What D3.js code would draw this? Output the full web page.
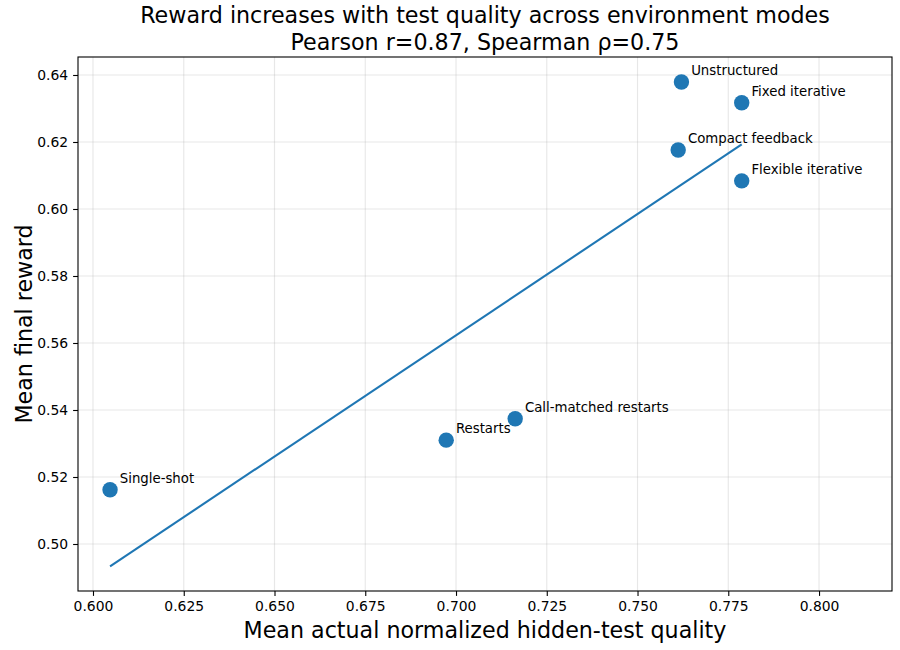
<!DOCTYPE html>
<html>
<head>
<meta charset="utf-8">
<script src="https://cdn.jsdelivr.net/npm/d3@7"></script>
<style>
  html, body { margin: 0; padding: 0; background: #fff; }
  svg { display: block; font-family: "DejaVu Sans", sans-serif; }
</style>
</head>
<body>
<svg id="chart" width="900" height="650"></svg>
<script>
// ---- Data ----
const modes = ["Single-shot", "Restarts", "Call-matched restarts", "Compact feedback", "Unstructured", "Fixed iterative", "Flexible iterative"];
const testQuality = [0.6047, 0.6973, 0.7163, 0.7612, 0.7621, 0.7787, 0.7787];
const meanReward = [0.5162, 0.5310, 0.5374, 0.6176, 0.6379, 0.6317, 0.6084];
const xTicks = [0.600, 0.625, 0.650, 0.675, 0.700, 0.725, 0.750, 0.775, 0.800];
const yTicks = [0.50, 0.52, 0.54, 0.56, 0.58, 0.60, 0.62, 0.64];
const titleLines = ["Reward increases with test quality across environment modes", "Pearson r=0.87, Spearman ρ=0.75"];
const xLabel = "Mean actual normalized hidden-test quality";
const yLabel = "Mean final reward";

// ---- Layout ----
const svg = d3.select("#chart");
const m = { left: 78, right: 892, top: 57, bottom: 591 };
const color = "#1f77b4";

const x = d3.scaleLinear().domain([0.59587, 0.8201]).range([m.left, m.right]);
const y = d3.scaleLinear().domain([0.48597, 0.64537]).range([m.bottom, m.top]);

// grid
const grid = svg.append("g");
grid.selectAll("line.gx").data(xTicks).join("line")
  .attr("x1", d => x(d)).attr("x2", d => x(d))
  .attr("y1", m.top).attr("y2", m.bottom)
  .attr("stroke", "#b0b0b0").attr("stroke-opacity", 0.3).attr("stroke-width", 1.1);
grid.selectAll("line.gy").data(yTicks).join("line")
  .attr("y1", d => y(d)).attr("y2", d => y(d))
  .attr("x1", m.left).attr("x2", m.right)
  .attr("stroke", "#b0b0b0").attr("stroke-opacity", 0.3).attr("stroke-width", 1.1);

// axes
const xAxis = svg.append("g").attr("transform", `translate(0,${m.bottom})`)
  .call(d3.axisBottom(x).tickValues(xTicks).tickFormat(d3.format(".3f")).tickSizeInner(4.9).tickSizeOuter(0).tickPadding(4.9));
const yAxis = svg.append("g").attr("transform", `translate(${m.left},0)`)
  .call(d3.axisLeft(y).tickValues(yTicks).tickFormat(d3.format(".2f")).tickSizeInner(4.9).tickSizeOuter(0).tickPadding(4.9));
[xAxis, yAxis].forEach(a => {
  a.select(".domain").remove();
  a.selectAll("line").attr("stroke", "#000").attr("stroke-width", 1.1);
  a.selectAll("text").attr("font-family", "DejaVu Sans").attr("font-size", 13.9).attr("fill", "#000");
});

// frame
svg.append("rect").attr("x", m.left).attr("y", m.top)
  .attr("width", m.right - m.left).attr("height", m.bottom - m.top)
  .attr("fill", "none").attr("stroke", "#000").attr("stroke-width", 1.1);

// regression line (least squares from the data)
const n = testQuality.length;
const mx = d3.mean(testQuality), my = d3.mean(meanReward);
let sxy = 0, sxx = 0;
for (let i = 0; i < n; i++) { sxy += (testQuality[i]-mx)*(meanReward[i]-my); sxx += (testQuality[i]-mx)**2; }
const slope = sxy / sxx, intercept = my - slope * mx;
const xr = d3.extent(testQuality);
svg.append("path")
  .datum(xr.map(v => [v, intercept + slope * v]))
  .attr("d", d3.line().x(d => x(d[0])).y(d => y(d[1])))
  .attr("fill", "none").attr("stroke", color).attr("stroke-width", 2.1);

// points
const pts = modes.map((mname, i) => ({ name: mname, xv: testQuality[i], yv: meanReward[i] }));
svg.append("g").selectAll("circle").data(pts).join("circle")
  .attr("cx", d => x(d.xv)).attr("cy", d => y(d.yv)).attr("r", 7.7)
  .attr("fill", color);

// annotations
svg.append("g").selectAll("text").data(pts).join("text")
  .attr("x", d => x(d.xv) + 9.7).attr("y", d => y(d.yv) - 7)
  .attr("font-size", 13.3).attr("fill", "#000")
  .text(d => d.name);

// title
const cx = (m.left + m.right) / 2;
svg.append("text").attr("x", cx).attr("y", 23).attr("text-anchor", "middle")
  .attr("font-size", 22.2).attr("fill", "#000").text(titleLines[0]);
svg.append("text").attr("x", cx).attr("y", 50).attr("text-anchor", "middle")
  .attr("font-size", 22.2).attr("fill", "#000").text(titleLines[1]);

// axis labels
svg.append("text").attr("x", cx).attr("y", 638).attr("text-anchor", "middle")
  .attr("font-size", 22.2).attr("fill", "#000").text(xLabel);
svg.append("text").attr("transform", `translate(31.5,${(m.top + m.bottom) / 2}) rotate(-90)`)
  .attr("text-anchor", "middle").attr("font-size", 22.2).attr("fill", "#000").text(yLabel);
</script>
</body>
</html>
